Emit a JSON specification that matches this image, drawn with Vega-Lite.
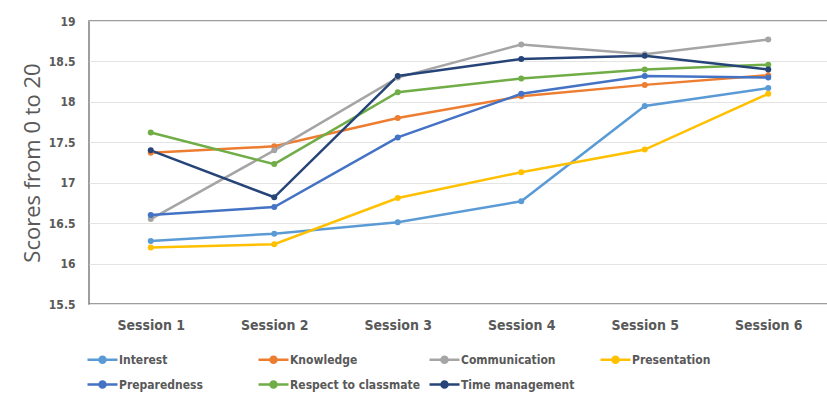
{
  "$schema": "https://vega.github.io/schema/vega-lite/v6.json",
  "width": 741,
  "height": 283,
  "autosize": {"type": "none"},
  "padding": {"left": 89, "top": 21, "right": 0, "bottom": 92},
  "background": "white",
  "config": {
    "view": {"stroke": "#7f7f7f", "strokeWidth": 1.5},
    "font": "Liberation Sans Narrow, DejaVu Sans Condensed, sans-serif"
  },
  "data": {
    "values": [
      {"series": "Interest", "session": "Session 1", "score": 16.28},
      {"series": "Interest", "session": "Session 2", "score": 16.37},
      {"series": "Interest", "session": "Session 3", "score": 16.51},
      {"series": "Interest", "session": "Session 4", "score": 16.77},
      {"series": "Interest", "session": "Session 5", "score": 17.95},
      {"series": "Interest", "session": "Session 6", "score": 18.17},
      {"series": "Knowledge", "session": "Session 1", "score": 17.37},
      {"series": "Knowledge", "session": "Session 2", "score": 17.45},
      {"series": "Knowledge", "session": "Session 3", "score": 17.8},
      {"series": "Knowledge", "session": "Session 4", "score": 18.07},
      {"series": "Knowledge", "session": "Session 5", "score": 18.21},
      {"series": "Knowledge", "session": "Session 6", "score": 18.33},
      {"series": "Communication", "session": "Session 1", "score": 16.55},
      {"series": "Communication", "session": "Session 2", "score": 17.4},
      {"series": "Communication", "session": "Session 3", "score": 18.3},
      {"series": "Communication", "session": "Session 4", "score": 18.71},
      {"series": "Communication", "session": "Session 5", "score": 18.59},
      {"series": "Communication", "session": "Session 6", "score": 18.77},
      {"series": "Presentation", "session": "Session 1", "score": 16.2},
      {"series": "Presentation", "session": "Session 2", "score": 16.24},
      {"series": "Presentation", "session": "Session 3", "score": 16.81},
      {"series": "Presentation", "session": "Session 4", "score": 17.13},
      {"series": "Presentation", "session": "Session 5", "score": 17.41},
      {"series": "Presentation", "session": "Session 6", "score": 18.1},
      {"series": "Preparedness", "session": "Session 1", "score": 16.6},
      {"series": "Preparedness", "session": "Session 2", "score": 16.7},
      {"series": "Preparedness", "session": "Session 3", "score": 17.56},
      {"series": "Preparedness", "session": "Session 4", "score": 18.1},
      {"series": "Preparedness", "session": "Session 5", "score": 18.32},
      {"series": "Preparedness", "session": "Session 6", "score": 18.3},
      {"series": "Respect to classmate", "session": "Session 1", "score": 17.62},
      {"series": "Respect to classmate", "session": "Session 2", "score": 17.23},
      {"series": "Respect to classmate", "session": "Session 3", "score": 18.12},
      {"series": "Respect to classmate", "session": "Session 4", "score": 18.29},
      {"series": "Respect to classmate", "session": "Session 5", "score": 18.4},
      {"series": "Respect to classmate", "session": "Session 6", "score": 18.46},
      {"series": "Time management", "session": "Session 1", "score": 17.4},
      {"series": "Time management", "session": "Session 2", "score": 16.82},
      {"series": "Time management", "session": "Session 3", "score": 18.32},
      {"series": "Time management", "session": "Session 4", "score": 18.53},
      {"series": "Time management", "session": "Session 5", "score": 18.57},
      {"series": "Time management", "session": "Session 6", "score": 18.4}
    ]
  },
  "mark": {"type": "line", "strokeWidth": 2.5, "point": {"filled": true, "size": 36}},
  "encoding": {
    "x": {
      "field": "session",
      "type": "ordinal",
      "scale": {"type": "point", "padding": 0.5},
      "axis": {
        "title": null,
        "labelAngle": 0,
        "domain": false,
        "ticks": false,
        "grid": false,
        "labelFontSize": 14,
        "labelFontWeight": "bold",
        "labelColor": "#595959",
        "labelPadding": 14
      }
    },
    "y": {
      "field": "score",
      "type": "quantitative",
      "scale": {"domain": [15.5, 19], "nice": false, "zero": false},
      "axis": {
        "title": "Scores from 0 to 20",
        "titleFont": "Open Sans",
        "titleFontWeight": "normal",
        "titleFontSize": 22,
        "titleColor": "#595959",
        "titlePadding": 4,
        "values": [15.5, 16, 16.5, 17, 17.5, 18, 18.5, 19],
        "format": ".1~f",
        "domain": false,
        "ticks": false,
        "gridColor": "#e4e4e4",
        "gridWidth": 1.2,
        "labelFontSize": 12,
        "labelFontWeight": "bold",
        "labelColor": "#595959",
        "labelPadding": 14
      }
    },
    "color": {
      "field": "series",
      "type": "nominal",
      "sort": null,
      "scale": {
        "domain": ["Interest", "Knowledge", "Communication", "Presentation", "Preparedness", "Respect to classmate", "Time management"],
        "range": ["#5B9BD5", "#ED7D31", "#A5A5A5", "#FFC000", "#4472C4", "#70AD47", "#264478"]
      },
      "legend": {
        "title": null,
        "orient": "none",
        "legendX": -3,
        "legendY": 322,
        "direction": "horizontal",
        "columns": 4,
        "gridAlign": "all",
        "columnPadding": 3,
        "rowPadding": -3,
        "symbolType": "M-1,0H1M-0.2,0A0.2,0.2 0 1,0 0.2,0A0.2,0.2 0 1,0 -0.2,0",
        "symbolSize": 900,
        "symbolStrokeWidth": 2.5,
        "symbolOffset": 0,
        "labelOffset": 0,
        "labelFontSize": 12,
        "labelFontWeight": "bold",
        "labelColor": "#595959",
        "labelLimit": 200
      }
    }
  }
}
